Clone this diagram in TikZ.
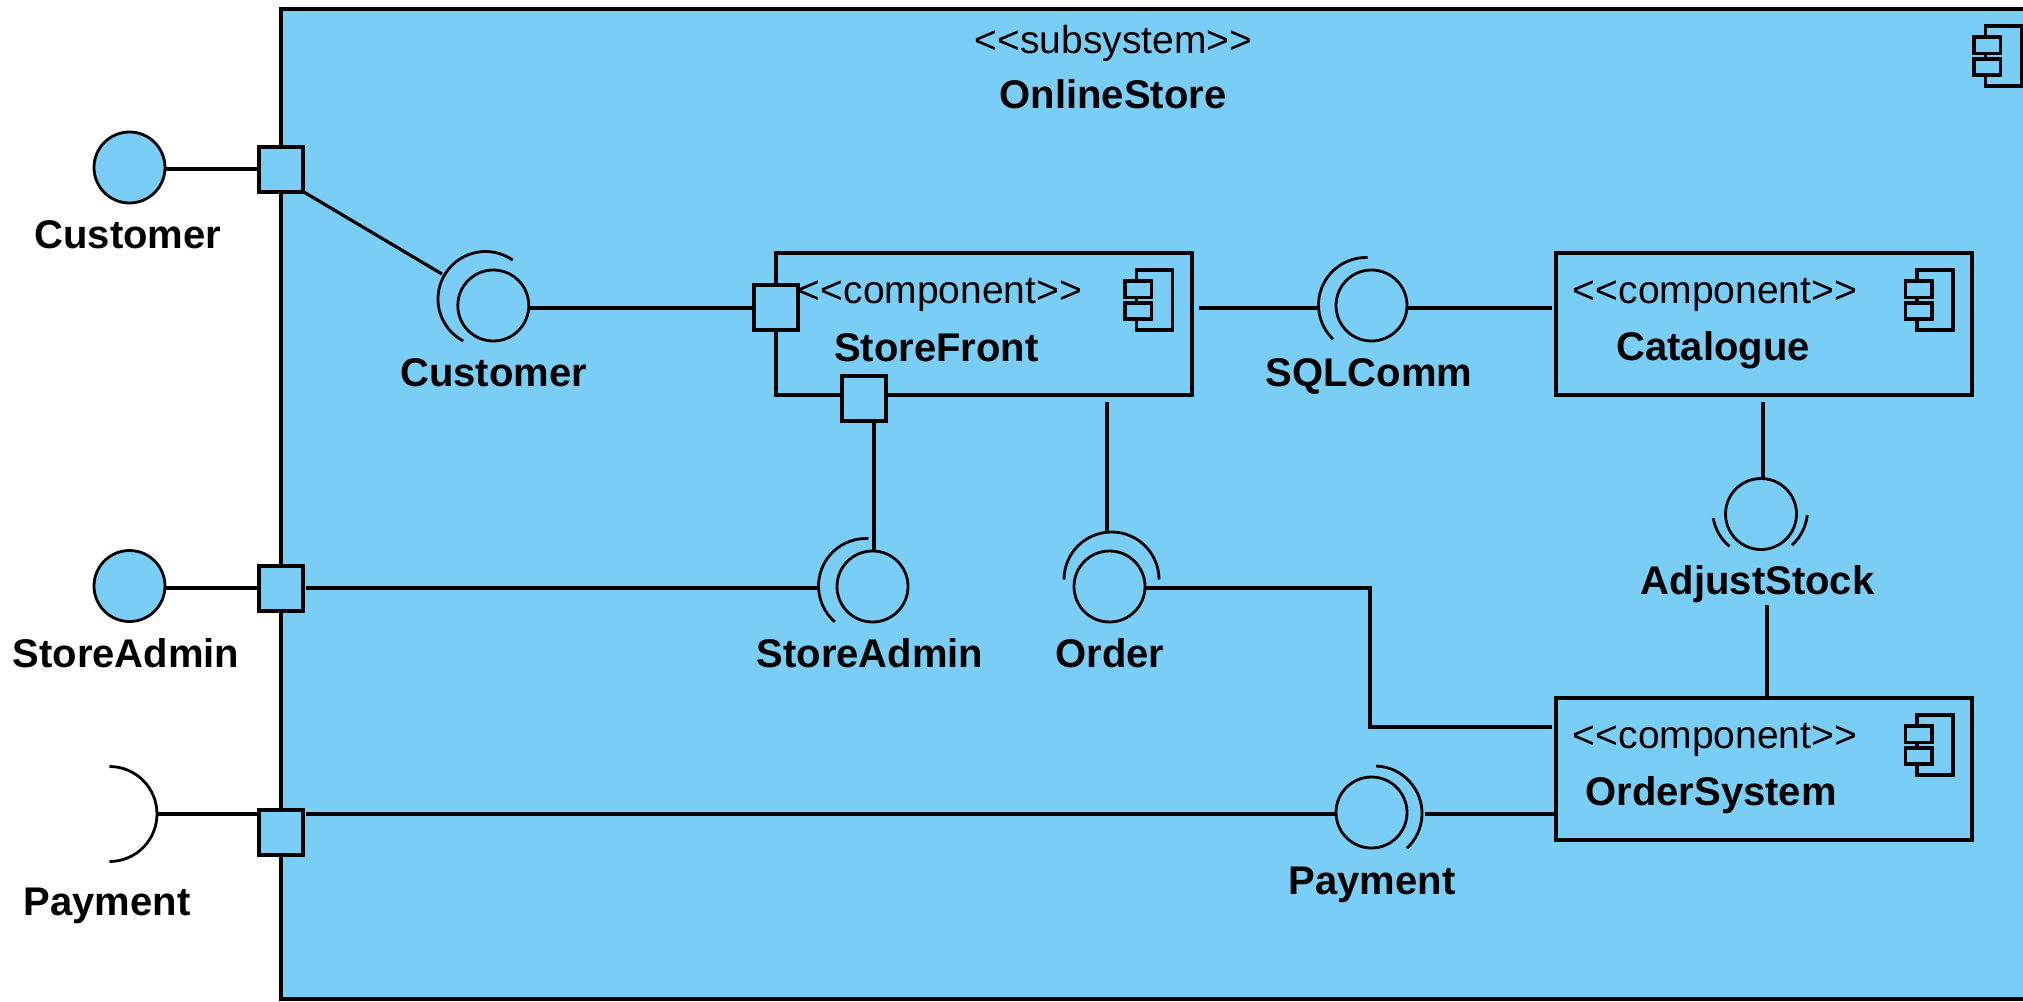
\documentclass[tikz,border=0pt]{standalone}
\usepackage{fontspec}
\setmainfont{Liberation Sans}

\definecolor{PartBlue}{HTML}{7ACDF5}

\tikzset{
  conn/.style={line width=2pt},
  thinconn/.style={line width=1.6pt},
  ball/.style={circle,draw,fill=PartBlue,line width=1.4pt,minimum size=35.5pt,inner sep=0pt,outer sep=0pt},
  port/.style={rectangle,draw,fill=PartBlue,line width=2pt,minimum width=22pt,minimum height=22.5pt,inner sep=0pt,outer sep=0pt},
  part/.style={rectangle,draw,line width=2pt,minimum width=208pt,minimum height=71pt,inner sep=0pt,outer sep=0pt},
  stereo/.style={anchor=base,inner sep=0pt,yshift=-.5pt,font=\fontsize{19.5}{24}\selectfont},
  lbl/.style={anchor=base,inner sep=0pt,yshift=-.7pt,font=\fontsize{20}{24}\selectfont\bfseries},
  sockarc/.style={line width=1.4pt},
  icon/.style={line width=1.7pt}
}

\begin{document}
\begin{tikzpicture}[x=.5pt,y=-.5pt]
\useasboundingbox (0,0) rectangle (2023,1001);

% subsystem frame
\draw[fill=PartBlue,line width=2pt] (281,9) rectangle (2040,999);
\node[stereo] (subStereo) at (1113.5,52.7) {<{}<subsystem>{}>};
\node[lbl] (subName) at (1113,107) {OnlineStore};

% parts
\node[part] (sf) at (983.5,324) {};
\node[part] (cat) at (1764,324) {};
\node[part] (os) at (1764,768.7) {};

\node[stereo] (sfStereo) at (940,302) {<{}<component>{}>};
\node[lbl] (sfName) at (936.5,360) {StoreFront};
\node[stereo] (catStereo) at (1715,302) {<{}<component>{}>};
\node[lbl] (catName) at (1713,359) {Catalogue};
\node[stereo] (osStereo) at (1715,747) {<{}<component>{}>};
\node[lbl] (osName) at (1711,804) {OrderSystem};

% component icons
\foreach \ix/\iy in {1136.6/270,1917/270,1917/715,1985.6/26} {
  \draw[icon] (\ix,\iy) rectangle +(36,60);
  \draw[icon,fill=PartBlue] (\ix-11.5,\iy+11) rectangle +(26.5,16.5);
  \draw[icon,fill=PartBlue] (\ix-11.5,\iy+33) rectangle +(26.5,16);
}

% ports
\node[port] (portCust) at (281,169) {};
\node[port] (portAdmin) at (281,588.3) {};
\node[port] (portPay) at (281,832.5) {};
\node[port] (sfPortL) at (776,307.5) {};
\node[port] (sfPortB) at (864,398.5) {};

% outer interfaces
\node[ball] (extCust) at (129.5,167.5) {};
\node[ball] (extAdmin) at (129.5,586) {};
\node[lbl] (extCustLbl) at (128,246.7) {Customer};
\node[lbl] (extAdminLbl) at (126,665.7) {StoreAdmin};
\node[lbl] (extPayLbl) at (107,914) {Payment};

% inner interfaces
\node[ball] (custBall) at (493.3,305.5) {};
\node[ball] (sqlBall) at (1371.5,305.5) {};
\node[ball] (adminBall) at (872.5,586.5) {};
\node[ball] (orderBall) at (1109.5,586.5) {};
\node[ball] (adjustBall) at (1761,514) {};
\node[ball] (payBall) at (1371.5,812.5) {};
\node[lbl] (custLbl) at (493.5,385) {Customer};
\node[lbl] (sqlLbl) at (1369,385) {SQLComm};
\node[lbl] (adminLbl) at (870,666) {StoreAdmin};
\node[lbl] (orderLbl) at (1110,666) {Order};
\node[lbl] (adjustLbl) at (1757.6,593) {AdjustStock};
\node[lbl] (payLbl) at (1372,892.7) {Payment};

% sockets
\foreach \cx/\cy/\aa/\ab in {485.5/299/55/242,1366/305/88/226,866/586/87/229,1111.5/579.5/0/180,
    1760/510/190/230,1760/510/312/354,1374.5/813.5/88/-47,109.5/814/90/-90}
  \draw[sockarc] ([shift={(\aa:23.75pt)}]\cx,\cy) arc[start angle=\aa,end angle=\ab,radius=23.75pt];

\coordinate (custOpen) at (442,274);
\coordinate (sqlOpen) at (1318,307.7);
\coordinate (adminOpen) at (819,588.3);
\coordinate (adminTop) at (874,551);
\coordinate (orderTop) at (1107,532.6);
\coordinate (orderBend) at (1369.6,588.3);
\coordinate (osJoin) at (1552,727);
\coordinate (adjustTop) at (1763,478);
\coordinate (adjustLow) at (1766.6,604.6);
\coordinate (extPayOpen) at (158,814);
\coordinate (payOpen) at (1425.4,814);

% connectors
\draw[conn] (extCust.east |- portCust.west) -- (portCust.west);
\draw[thinconn] (portCust.south east) -- (custOpen);
\draw[conn] (custBall.east |- sfPortL.west) -- (sfPortL.west);
\draw[conn,shorten <=3.5pt] (sf.east |- sqlOpen) -- (sqlOpen);
\draw[conn,shorten >=2pt] (sqlBall.east |- sqlOpen) -- (cat.west |- sqlOpen);
\draw[thinconn,shorten <=1pt] (sfPortB.south -| adminTop) -- (adminTop);
\draw[thinconn,shorten <=3.5pt] (sf.south -| orderTop) -- (orderTop);
\draw[conn] (extAdmin.east |- portAdmin.west) -- (portAdmin.west);
\draw[conn,shorten <=1.5pt] (portAdmin.east) -- (adminOpen);
\draw[conn] (orderBall.east |- orderBend) -- (orderBend) |- (osJoin);
\draw[thinconn,shorten <=3.5pt] (cat.south -| adjustTop) -- (adjustTop);
\draw[conn] (adjustLow) -- (os.north -| adjustLow);
\draw[conn] (extPayOpen) -- (portPay.west |- extPayOpen);
\draw[conn,shorten <=1.5pt] (portPay.east |- payOpen) -- (payBall.west |- payOpen);
\draw[conn] (payOpen) -- (os.west |- payOpen);

\end{tikzpicture}
\end{document}
